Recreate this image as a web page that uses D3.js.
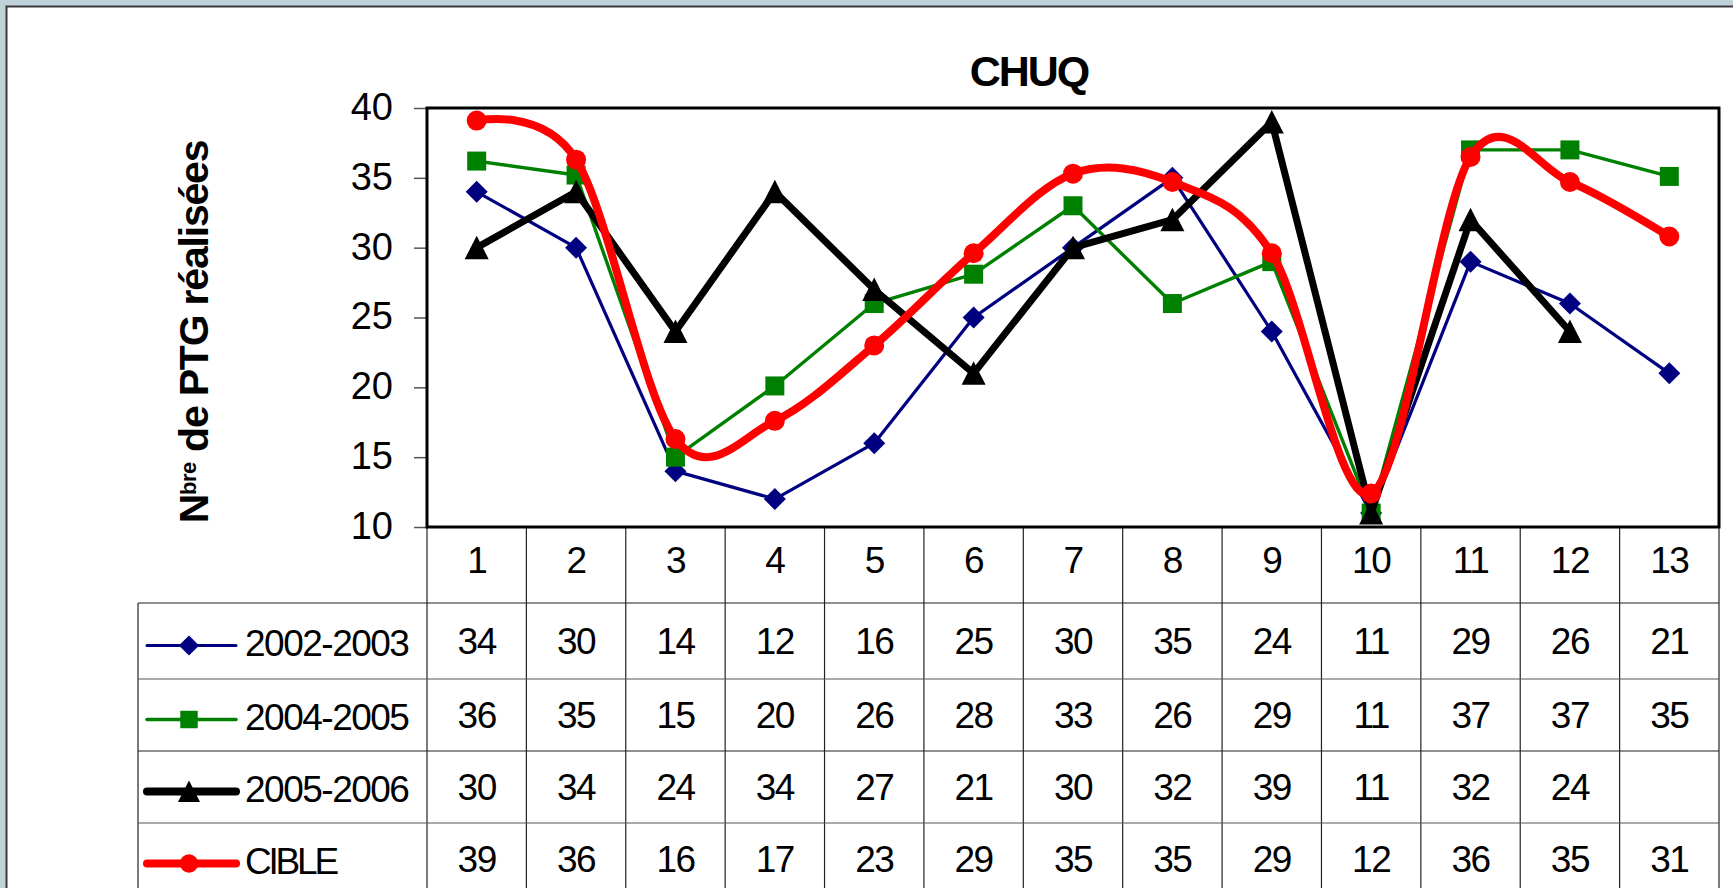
<!DOCTYPE html>
<html><head><meta charset="utf-8">
<script src="https://cdn.jsdelivr.net/npm/d3@7"></script>
<style>
html,body{margin:0;padding:0;background:#bfd2d9;overflow:hidden}
svg{display:block;font-family:"Liberation Sans",Arial,sans-serif}
</style></head><body>
<svg id="chart" width="1733" height="888"></svg>
<script>
// ---------- data ----------
const categories = ["1","2","3","4","5","6","7","8","9","10","11","12","13"];
const yTicks = [10, 15, 20, 25, 30, 35, 40];
const seriesNames = ["2002-2003", "2004-2005", "2005-2006", "CIBLE"];
const values2002 = [34, 30, 14, 12, 16, 25, 30, 35, 24, 11, 29, 26, 21];
const values2004 = [36.2, 35.2, 15, 20.1, 26, 28.1, 33, 26, 29, 11, 37, 37, 35.1];
const values2005 = [30, 34, 24, 34, 27, 21, 30, 32, 39, 11, 32, 24, null];
const valuesCible = [39.1, 36.3, 16.3, 17.6, 23, 29.6, 35.3, 34.7, 29.6, 12.4, 36.5, 34.7, 30.8];
const labels2002 = ["34","30","14","12","16","25","30","35","24","11","29","26","21"];
const labels2004 = ["36","35","15","20","26","28","33","26","29","11","37","37","35"];
const labels2005 = ["30","34","24","34","27","21","30","32","39","11","32","24",""];
const labelsCible = ["39","36","16","17","23","29","35","35","29","12","36","35","31"];
const title = "CHUQ";

// ---------- layout ----------
const W = 1733, H = 888;
const plot = {left: 427, right: 1719, top: 108, bottom: 527};
const headerBottom = 603;
const rowTops = [603, 679, 751, 823];
const rowBottom = 895;
const legendLeft = 138;

const svg = d3.select("#chart");
svg.append("rect").attr("x",0).attr("y",0).attr("width",W).attr("height",H).attr("fill","#bfd2d9");
svg.append("rect").attr("x",6.5).attr("y",6.5).attr("width",W+10).attr("height",H+10)
  .attr("fill","#ffffff").attr("stroke","#3a3a3a").attr("stroke-width",2);

const x = d3.scaleBand().domain(categories).range([plot.left, plot.right]).padding(0);
const y = d3.scaleLinear().domain([10, 40]).range([plot.bottom, plot.top]);
const cx = c => x(c) + x.bandwidth()/2;

const series = [
  {name: seriesNames[0], values: values2002, labels: labels2002, color: "#000080", width: 3.2, legendWidth: 3, marker: "diamond", curve: d3.curveLinear},
  {name: seriesNames[1], values: values2004, labels: labels2004, color: "#008000", width: 3.4, legendWidth: 3.5, marker: "square", curve: d3.curveLinear},
  {name: seriesNames[2], values: values2005, labels: labels2005, color: "#000000", width: 7, legendWidth: 8, marker: "triangle", curve: d3.curveLinear},
  {name: seriesNames[3], values: valuesCible, labels: labelsCible, color: "#ff0000", width: 8, legendWidth: 8, marker: "circle", curve: d3.curveCatmullRom.alpha(0)}
];

function markerPath(type) {
  if (type === "diamond") return "M0,-11L11,0L0,11L-11,0Z";
  if (type === "square") return "M-9.5,-9.5H9.5V9.5H-9.5Z";
  if (type === "triangle") return "M0,-12L12,11.5L-12,11.5Z";
  return d3.symbol().type(d3.symbolCircle).size(Math.PI*10*10)();
}

// ---------- title ----------
svg.append("text").attr("x", 1029).attr("y", 86).attr("text-anchor","middle")
  .attr("font-size", 43).attr("font-weight","bold").attr("letter-spacing", -2)
  .text(title);

// ---------- y label ----------
const yl = svg.append("text").attr("transform","translate(208,332) rotate(-90)")
  .attr("text-anchor","middle").attr("font-weight","bold").attr("font-size",41).attr("letter-spacing",-1.2);
yl.append("tspan").text("N");
yl.append("tspan").attr("font-size",22).attr("dy",-12).attr("letter-spacing",-0.5).text("bre");
yl.append("tspan").attr("dy",12).text(" de PTG réalisées");

// ---------- y axis ----------
const yAxis = d3.axisLeft(y).tickValues(yTicks).tickSize(13).tickPadding(21);
const ga = svg.append("g").attr("transform",`translate(${plot.left},0)`).call(yAxis);
ga.select(".domain").remove();
ga.selectAll(".tick line").attr("stroke","#555").attr("stroke-width",1.5);
ga.selectAll(".tick text").attr("font-size",38).attr("fill","#000").attr("dy","0.3em")
  .attr("font-family",'"Liberation Sans",Arial,sans-serif');

// ---------- table grid ----------
const grid = svg.append("g").attr("stroke","#222").attr("stroke-width",1.2);
const bounds = categories.map(c => x(c)).concat([plot.right]);
bounds.forEach(b => {
  grid.append("line").attr("x1",b).attr("x2",b).attr("y1",plot.bottom).attr("y2",H);
});
grid.append("line").attr("x1",legendLeft).attr("x2",legendLeft).attr("y1",headerBottom).attr("y2",H);
rowTops.forEach((t,i) => {
  grid.append("line").attr("x1",legendLeft).attr("x2",plot.right).attr("y1",t).attr("y2",t)
    .attr("stroke", i % 2 === 0 ? "#222" : "#555");
});

// header numbers
svg.append("g").selectAll("text").data(categories).join("text")
  .attr("x", d => cx(d)).attr("y", 573).attr("text-anchor","middle")
  .attr("font-size",37).attr("letter-spacing",-1.5).text(d => d);

// table values + legend
series.forEach((s, i) => {
  const top = rowTops[i];
  const bottom = i < rowTops.length - 1 ? rowTops[i+1] : rowBottom;
  const mid = (top + bottom) / 2;
  const base = mid + 12.5;
  const g = svg.append("g");
  g.selectAll("text.v").data(categories).join("text").attr("class","v")
    .attr("x", d => cx(d)).attr("y", base).attr("text-anchor","middle")
    .attr("font-size",37).attr("letter-spacing",-1.5).text((d,j) => s.labels[j]);
  const ly = mid + 4.5;
  g.append("line").attr("x1",147).attr("x2",236).attr("y1",ly).attr("y2",ly)
    .attr("stroke",s.color).attr("stroke-width",s.legendWidth).attr("stroke-linecap","round");
  g.append("path").attr("d", markerPath(s.marker)).attr("transform",`translate(189,${ly}) scale(0.92)`).attr("fill", s.color);
  g.append("text").attr("x",245).attr("y",base+2).attr("font-size",37)
    .attr("letter-spacing", s.name === "CIBLE" ? -3.2 : -1.5).text(s.name);
});

// ---------- series ----------
series.forEach(s => {
  const pts = categories.map((c,j) => ({c, v: s.values[j]}));
  const line = d3.line().defined(d => d.v != null).x(d => cx(d.c)).y(d => y(d.v)).curve(s.curve);
  svg.append("path").datum(pts).attr("d", line).attr("fill","none")
    .attr("stroke", s.color).attr("stroke-width", s.width)
    .attr("stroke-linejoin","round").attr("stroke-linecap","round");
  svg.append("g").selectAll("path").data(pts.filter(d => d.v != null)).join("path")
    .attr("d", markerPath(s.marker))
    .attr("transform", d => `translate(${cx(d.c)},${y(d.v)})`)
    .attr("fill", s.color);
});

// ---------- plot frame ----------
svg.append("rect").attr("x",plot.left).attr("y",plot.top)
  .attr("width",plot.right-plot.left).attr("height",plot.bottom-plot.top)
  .attr("fill","none").attr("stroke","#000").attr("stroke-width",3);
</script>
</body></html>
